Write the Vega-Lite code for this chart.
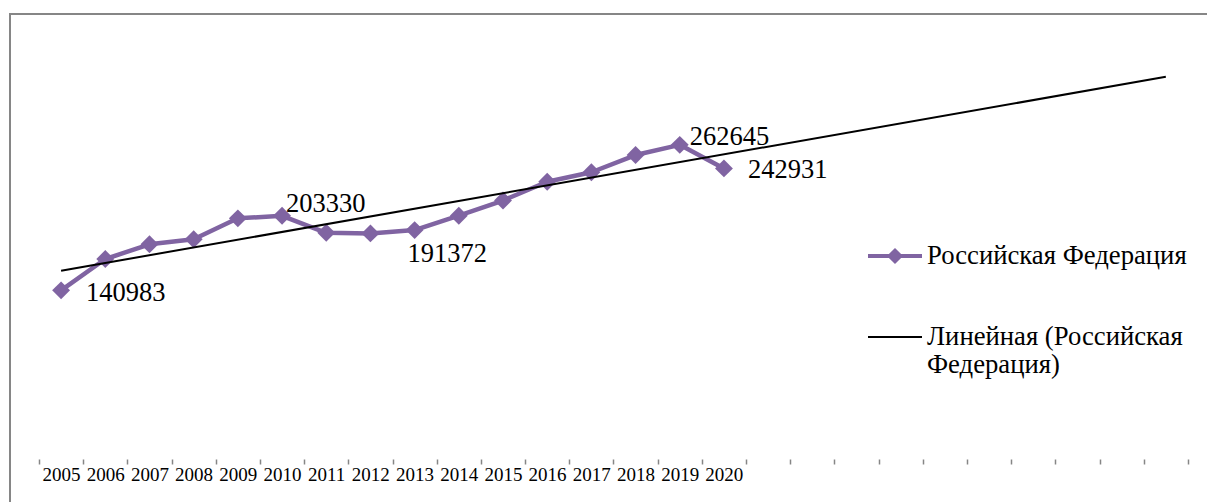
{
  "$schema": "https://vega.github.io/schema/vega-lite/v6.json",
  "width": 1199,
  "height": 490,
  "autosize": {"type": "none"},
  "padding": {"left": 10, "top": 14, "right": 0, "bottom": 0},
  "background": "#ffffff",
  "config": {
    "font": "Liberation Serif",
    "view": {"stroke": "#868686", "strokeWidth": 2}
  },
  "datasets": {
    "main": [
      {"year": 2005, "value": 140983, "series": "Российская Федерация"},
      {"year": 2006, "value": 167200, "series": "Российская Федерация"},
      {"year": 2007, "value": 179500, "series": "Российская Федерация"},
      {"year": 2008, "value": 183700, "series": "Российская Федерация"},
      {"year": 2009, "value": 201200, "series": "Российская Федерация"},
      {"year": 2010, "value": 203330, "series": "Российская Федерация"},
      {"year": 2011, "value": 189100, "series": "Российская Федерация"},
      {"year": 2012, "value": 188600, "series": "Российская Федерация"},
      {"year": 2013, "value": 191372, "series": "Российская Федерация"},
      {"year": 2014, "value": 203400, "series": "Российская Федерация"},
      {"year": 2015, "value": 216100, "series": "Российская Федерация"},
      {"year": 2016, "value": 231800, "series": "Российская Федерация"},
      {"year": 2017, "value": 239700, "series": "Российская Федерация"},
      {"year": 2018, "value": 254100, "series": "Российская Федерация"},
      {"year": 2019, "value": 262645, "series": "Российская Федерация"},
      {"year": 2020, "value": 242931, "series": "Российская Федерация"}
    ],
    "trend": [
      {"year": 2005, "value": 157400, "series": "Линейная (Российская Федерация)"},
      {"year": 2030, "value": 319500, "series": "Линейная (Российская Федерация)"}
    ]
  },
  "data": {"name": "main"},
  "encoding": {
    "x": {
      "field": "year",
      "type": "quantitative",
      "scale": {"domain": [2003.8437, 2030.9766], "nice": false, "zero": false},
      "axis": {
        "title": null,
        "values": [2004.5, 2005.5, 2006.5, 2007.5, 2008.5, 2009.5, 2010.5, 2011.5, 2012.5, 2013.5, 2014.5, 2015.5, 2016.5, 2017.5, 2018.5, 2019.5, 2020.5, 2021.5, 2022.5, 2023.5, 2024.5, 2025.5, 2026.5, 2027.5, 2028.5, 2029.5, 2030.5],
        "labelExpr": "datum.value < 2020 ? format(datum.value + 0.5, 'd') : ''",
        "labelOffset": 22,
        "labelFont": "Liberation Serif",
        "labelFontSize": 19,
        "labelColor": "#000000",
        "labelPadding": 1,
        "labelAngle": 0,
        "labelFlush": false,
        "labelOverlap": false,
        "domain": false,
        "grid": false,
        "ticks": true,
        "tickSize": 5,
        "tickColor": "#868686",
        "tickWidth": 1.5,
        "offset": -45
      }
    },
    "y": {
      "field": "value",
      "type": "quantitative",
      "scale": {"domain": [-37620, 372020], "nice": false, "zero": false},
      "axis": null
    }
  },
  "layer": [
    {
      "data": {"values": [{}]},
      "mark": {"type": "rule", "color": "#868686", "strokeWidth": 2},
      "encoding": {
        "x": {"datum": 2004.5, "type": "quantitative"},
        "x2": {"datum": 2030.5},
        "y": {"datum": 0, "type": "quantitative"}
      }
    },
    {
      "mark": {"type": "line", "strokeWidth": 4.5, "strokeJoin": "round"},
      "encoding": {
        "color": {
          "field": "series",
          "type": "nominal",
          "scale": {"domain": ["Российская Федерация", "Линейная (Российская Федерация)"], "range": ["#8064A2", "#000000"]},
          "legend": {
            "orient": "none",
            "legendX": 858,
            "legendY": 215,
            "title": null,
            "padding": 0,
            "symbolSize": 2916,
            "labelFont": "Liberation Serif",
            "labelFontSize": 26.7,
            "labelColor": "#000000",
            "labelOffset": 5,
            "labelLimit": 500,
            "rowPadding": 40,
            "labelExpr": "datum.label === 'Линейная (Российская Федерация)' ? ['Линейная (Российская', 'Федерация)'] : datum.label",
            "encode": {
              "symbols": {
                "update": {
                  "shape": {"signal": "datum.value === 'Российская Федерация' ? 'M-1,-0.075L1,-0.075L1,0.075L-1,0.075Z M-0.3,0L0,-0.3L0.3,0L0,0.3Z' : 'M-1,-0.037L1,-0.037L1,0.037L-1,0.037Z'"},
                  "fill": {"signal": "datum.value === 'Российская Федерация' ? '#8064A2' : '#000000'"},
                  "fillOpacity": {"value": 1},
                  "strokeWidth": {"value": 0},
                  "opacity": {"value": 1}
                }
              },
              "labels": {
                "update": {
                  "baseline": {"value": "alphabetic"},
                  "dy": {"value": 8},
                  "lineHeight": {"value": 28}
                }
              }
            }
          }
        }
      }
    },
    {
      "mark": {"type": "point", "shape": "diamond", "filled": true, "size": 320, "color": "#8064A2", "opacity": 1}
    },
    {
      "data": {"name": "trend"},
      "mark": {"type": "line", "strokeWidth": 2},
      "encoding": {
        "color": {"field": "series", "type": "nominal"}
      }
    },
    {
      "transform": [{"filter": "datum.year == 2005"}],
      "mark": {"type": "text", "align": "left", "baseline": "middle", "dx": 25, "dy": 3, "fontSize": 26.5, "color": "#000000"},
      "encoding": {"text": {"field": "value", "type": "quantitative", "format": "d"}}
    },
    {
      "transform": [{"filter": "datum.year == 2010"}],
      "mark": {"type": "text", "align": "left", "baseline": "middle", "dx": 4, "dy": -12, "fontSize": 26.5, "color": "#000000"},
      "encoding": {"text": {"field": "value", "type": "quantitative", "format": "d"}}
    },
    {
      "transform": [{"filter": "datum.year == 2013"}],
      "mark": {"type": "text", "align": "left", "baseline": "middle", "dx": -7, "dy": 24, "fontSize": 26.5, "color": "#000000"},
      "encoding": {"text": {"field": "value", "type": "quantitative", "format": "d"}}
    },
    {
      "transform": [{"filter": "datum.year == 2019"}],
      "mark": {"type": "text", "align": "left", "baseline": "middle", "dx": 10, "dy": -8, "fontSize": 26.5, "color": "#000000"},
      "encoding": {"text": {"field": "value", "type": "quantitative", "format": "d"}}
    },
    {
      "transform": [{"filter": "datum.year == 2020"}],
      "mark": {"type": "text", "align": "left", "baseline": "middle", "dx": 24, "dy": 2, "fontSize": 26.5, "color": "#000000"},
      "encoding": {"text": {"field": "value", "type": "quantitative", "format": "d"}}
    }
  ]
}
